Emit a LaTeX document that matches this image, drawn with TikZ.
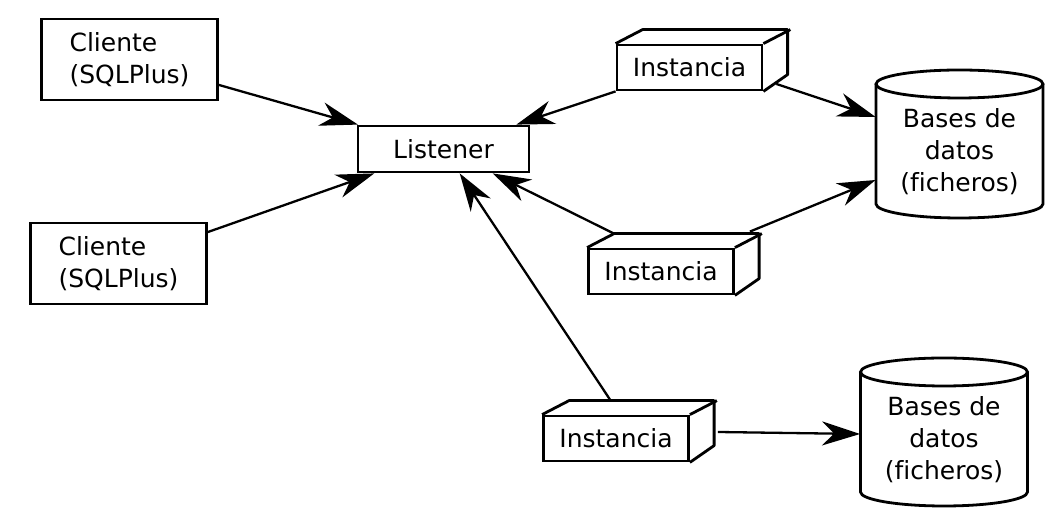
\documentclass[tikz,border=0pt]{standalone}
\usepackage{fontspec}
\setmainfont[Ligatures=NoCommon]{DejaVu Sans}
\usetikzlibrary{arrows.meta,calc}
\begin{document}
\begin{tikzpicture}[x=0.5pt,y=0.5pt,
  every node/.style={font=\fontsize{12.5}{16}\selectfont},
  box/.style={draw,line width=1.4pt,rectangle,inner sep=0pt},
  client/.style={box,minimum width=87.5pt,minimum height=40.5pt,align=left,inner xsep=14pt},
  listener/.style={box,minimum width=85.5pt,minimum height=23pt},
  inst/.style={box,minimum width=72.5pt,minimum height=22.5pt},
  dbtext/.style={inner sep=0pt,minimum width=83.5pt,minimum height=66pt,align=center},
  edge3d/.style={line width=1.4pt,line join=round},
  cyl/.style={line width=1.4pt},
  conn/.style={line width=1.15pt,-{Stealth[length=19pt,width=12pt,inset=6pt]}}]
\useasboundingbox (0,0) rectangle (1061,-522);

% clients and listener
\node[client] (c1) at (129.5,-59.5) {Cliente\\(SQLPlus)};
\node[client] (c2) at (118.5,-263.5) {Cliente\\(SQLPlus)};
\node[listener] (lst) at (443.5,-149) {Listener};

% instances (3D boxes)
\node[inst] (i1) at (689.5,-67.5) {Instancia};
\node[inst] (i2) at (661,-271.5) {Instancia};
\node[inst] (i3) at (616,-438.5) {Instancia};
\foreach \n in {i1,i2,i3}{
  \draw[edge3d] (\n.north west) -- ++(27,14) -- ++(145,0) -- ++(0,-45) -- (\n.south east);
  \draw[edge3d] (\n.north east) -- ++(27,14);
}

% databases (cylinders)
\node[dbtext] (db1) at (959.5,-152) {Bases de\\datos\\(ficheros)};
\node[dbtext] (db2) at (944,-440) {Bases de\\datos\\(ficheros)};
\foreach \n in {db1,db2}{
  \draw[cyl] ($(\n.center)+(-83.5,68)$) -- ++(0,-120)
     arc[start angle=180,end angle=360,x radius=83.5,y radius=14] -- ++(0,120);
  \draw[cyl] ($(\n.center)+(0,68)$) ellipse[x radius=83.5,y radius=14];
}

% connectors
\coordinate (s4) at ($(i2.north)+(-47,14)$);
\coordinate (s5) at ($(i3.north)+(-6,15)$);
\draw[conn] (c1) -- (lst);
\draw[conn] (c2) -- (lst);
\draw[conn] (i1.south west) -- (lst);
\draw[conn] (s4) -- (lst);
\draw[conn] (s5) -- (lst);
\draw[conn] ($(i1.east)+(13,-16.5)$) -- ($(db1.west)+(0,35)$);
\draw[conn] ($(i2.north east)+(15,16)$) -- ($(db1.west)+(0,-28)$);
\draw[conn] ($(i3.east)+(28,6.5)$) -- ($(db2.west)+(0,6)$);
\end{tikzpicture}
\end{document}
